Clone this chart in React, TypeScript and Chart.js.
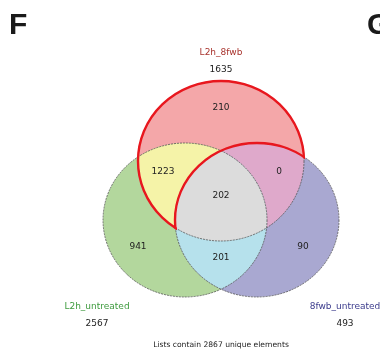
import React, { useEffect, useRef } from "react";
import { Chart, registerables } from "chart.js";
Chart.register(...registerables);

// ---- data ----
const setNames = ["L2h_8fwb", "L2h_untreated", "8fwb_untreated"];
const setTotals = [1635, 2567, 493];
const regionNames = ["L2h_8fwb only", "L2h_8fwb ∩ L2h_untreated", "L2h_8fwb ∩ 8fwb_untreated", "all three", "L2h_untreated only", "L2h_untreated ∩ 8fwb_untreated", "8fwb_untreated only"];
const regionValues = [210, 1223, 0, 202, 941, 201, 90];
const uniqueTotal = 2867;

// ---- layout (plot coordinates) ----
const circles = [
  { cx: 221, cy: 161, rx: 83, ry: 80 },
  { cx: 185, cy: 220, rx: 82, ry: 77 },
  { cx: 257, cy: 220, rx: 82, ry: 77 },
];
const regionPos = [
  [221, 108], [163, 172], [279, 172], [221, 196], [138, 247], [221, 258], [303, 247],
];
const setLabelPos = [
  [221, 53], [97, 307], [345, 307],
];
const setTotalPos = [
  [221, 70], [97, 324], [345, 324],
];
const setColors = ["#f4a7a9", "#b3d79d", "#a9a8d1"];
const setTextColors = ["#a8332d", "#3f9b3f", "#3b3b8c"];
const pairColors = { rg: "#f5f3a8", rp: "#dfa9cb", gp: "#b6e1ec", all: "#dcdcdc" };

const vennPlugin = {
  id: "venn",
  beforeDatasetsDraw(chart: any) {
    const { ctx, scales } = chart;
    const xs = scales.x, ys = scales.y;
    const path = (i: number, grow = 0, fresh = true) => {
      const c = circles[i];
      const px = xs.getPixelForValue(c.cx), py = ys.getPixelForValue(c.cy);
      const rx = Math.abs(xs.getPixelForValue(c.cx + c.rx) - px) + grow;
      const ry = Math.abs(ys.getPixelForValue(c.cy + c.ry) - py) + grow;
      if (fresh) ctx.beginPath();
      ctx.moveTo(px + rx, py);
      ctx.ellipse(px, py, rx, ry, 0, 0, Math.PI * 2);
    };
    const fillClip = (ids: number[], color: string) => {
      ctx.save();
      for (let k = 0; k < ids.length - 1; k++) { path(ids[k]); ctx.clip(); }
      path(ids[ids.length - 1]);
      ctx.fillStyle = color;
      ctx.fill();
      ctx.restore();
    };
    ctx.save();
    for (let i = 0; i < 3; i++) { path(i); ctx.fillStyle = setColors[i]; ctx.fill(); }
    fillClip([0, 1], pairColors.rg);
    fillClip([0, 2], pairColors.rp);
    fillClip([1, 2], pairColors.gp);
    fillClip([0, 1, 2], pairColors.all);
    // thin dashed outlines
    ctx.setLineDash([2, 1]);
    ctx.lineWidth = 0.8;
    ctx.strokeStyle = "#555";
    for (let i = 0; i < 3; i++) { path(i); ctx.stroke(); }
    ctx.setLineDash([]);
    // thick red outline around (set 0 minus set 2)
    ctx.lineWidth = 2.4;
    ctx.strokeStyle = "#e8171e";
    // red circle arc outside purple
    ctx.save();
    ctx.beginPath();
    ctx.rect(0, 0, chart.width, chart.height);
    path(2, -1.2, false);
    ctx.clip("evenodd");
    path(0); ctx.stroke();
    ctx.restore();
    // purple arc inside red
    ctx.save();
    path(0, 1.2);
    ctx.clip();
    path(2); ctx.stroke();
    ctx.restore();
    ctx.restore();
  },
  afterDatasetsDraw(chart: any) {
    const { ctx, scales } = chart;
    const xs = scales.x, ys = scales.y;
    const meta = chart.getDatasetMeta(0);
    ctx.save();
    ctx.textAlign = "center";
    ctx.textBaseline = "middle";
    ctx.font = "9px 'DejaVu Sans'";
    ctx.fillStyle = "#222";
    meta.data.forEach((pt: any, i: number) => {
      ctx.fillText(String(regionValues[i]), pt.x, pt.y);
    });
    for (let i = 0; i < 3; i++) {
      ctx.fillStyle = setTextColors[i];
      ctx.fillText(setNames[i], xs.getPixelForValue(setLabelPos[i][0]), ys.getPixelForValue(setLabelPos[i][1]));
      ctx.fillStyle = "#222";
      ctx.fillText(String(setTotals[i]), xs.getPixelForValue(setTotalPos[i][0]), ys.getPixelForValue(setTotalPos[i][1]));
    }
    ctx.font = "7.6px 'DejaVu Sans'";
    ctx.fillStyle = "#222";
    ctx.fillText(`Lists contain ${uniqueTotal} unique elements`, xs.getPixelForValue(221), ys.getPixelForValue(345));
    ctx.font = "bold 30px 'Liberation Sans'";
    ctx.fillStyle = "#1a1a1a";
    ctx.textAlign = "left";
    ctx.fillText("F", xs.getPixelForValue(9), ys.getPixelForValue(26));
    ctx.fillText("G", xs.getPixelForValue(367), ys.getPixelForValue(26));
    ctx.restore();
  },
};

export default function App() {
  const ref = useRef<HTMLCanvasElement>(null);
  useEffect(() => {
    document.body.style.margin = "0";
    const chart = new Chart(ref.current!, {
      type: "scatter",
      data: {
        datasets: [{
          label: "regions",
          data: regionPos.map((p, i) => ({ x: p[0], y: p[1], name: regionNames[i] } as any)),
          pointRadius: 0,
        }],
      },
      options: {
        animation: false,
        responsive: false,
        maintainAspectRatio: false,
        layout: { padding: 0 },
        plugins: { legend: { display: false }, tooltip: { enabled: false } },
        scales: {
          x: { type: "linear", min: 0, max: 380, display: false },
          y: { type: "linear", min: 0, max: 351, reverse: true, display: false },
        },
      },
      plugins: [vennPlugin],
    });
    return () => chart.destroy();
  }, []);
  return (
    <div style={{ width: 380, height: 351, background: "#fff" }}>
      <canvas ref={ref} width={380} height={351} style={{ display: "block" }} />
    </div>
  );
}
